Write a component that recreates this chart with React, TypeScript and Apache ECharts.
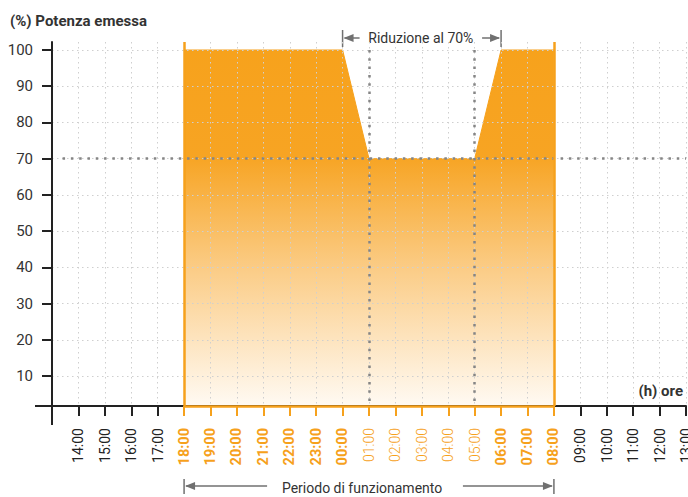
import React, { useEffect, useRef } from 'react';
import * as echarts from 'echarts';

// ---- data ----
const hourTicks = [14, 15, 16, 17, 18, 19, 20, 21, 22, 23, 24, 25, 26, 27, 28, 29, 30, 31, 32, 33, 34, 35, 36, 37];
const hourLabels = ['14:00', '15:00', '16:00', '17:00', '18:00', '19:00', '20:00', '21:00', '22:00', '23:00', '00:00', '01:00', '02:00', '03:00', '04:00', '05:00', '06:00', '07:00', '08:00', '09:00', '10:00', '11:00', '12:00', '13:00'];
const boldHours = [18, 19, 20, 21, 22, 23, 24, 30, 31, 32];
const thinOrangeHours = [25, 26, 27, 28, 29];
const blackTickHours = [14, 15, 16, 17, 33, 34, 35, 36, 37];
const orangeTickHours = [18, 19, 20, 21, 22, 23, 24, 25, 26, 27, 28, 29, 30, 31, 32];
const powerHours = [18, 24, 25, 29, 30, 32];
const powerValues = [100, 100, 70, 70, 100, 100];
const yTicks = [10, 20, 30, 40, 50, 60, 70, 80, 90, 100];
const reducedLevel = 70;
const fullLevel = 100;
const reductionMarkHours = [25, 29];
const operatingPeriod = [18, 32];
const reductionPeriod = [24, 30];

const X_MIN = 13;
const X_MAX = 37;
const Y_MIN = 1.72;
const Y_MAX = 102.21;

const ORANGE = '#f6a11c';
const FONT = 'Roboto, "Noto Sans", sans-serif';
const GRAY_ARROW = '#707070';

export default function App() {
  const ref = useRef<HTMLDivElement>(null);

  useEffect(() => {
    if (!ref.current) return;
    const chart = echarts.init(ref.current, null, { renderer: 'svg' });

    const gridLine = { color: '#cfcfcf', width: 1, type: [1.5, 3.5] };
    const darkDots = { color: '#858585', width: 2.5, type: [2.5, 5.8] };

    const option: any = {
      animation: false,
      grid: { left: 52, right: 2, top: 42, bottom: 91, containLabel: false, outerBoundsMode: 'none' },
      xAxis: [
        {
          type: 'value', min: X_MIN, max: X_MAX, interval: 1, position: 'bottom', z: 3,
          axisLine: { show: true, onZero: false, lineStyle: { color: '#222', width: 2 } },
          axisTick: { show: false, customValues: hourTicks },
          axisLabel: {
            customValues: hourTicks,
            rotate: 90,
            margin: 22,
            formatter: (v: number) => {
              const i = hourTicks.indexOf(v);
              if (i < 0) return '';
              const lab = hourLabels[i];
              if (boldHours.includes(v)) return `{b|${lab}}`;
              if (thinOrangeHours.includes(v)) return `{t|${lab}}`;
              return `{n|${lab}}`;
            },
            rich: {
              n: { color: '#222', fontSize: 14, fontFamily: FONT },
              b: { color: ORANGE, fontSize: 14.5, fontWeight: 'bold', fontFamily: FONT },
              t: { color: ORANGE, fontSize: 14, fontWeight: 300, fontFamily: FONT },
            },
          },
          splitLine: { show: true, lineStyle: gridLine },
        },
        {
          type: 'value', min: X_MIN, max: X_MAX, position: 'bottom', z: 3,
          axisLine: { show: false, onZero: false },
          axisTick: { show: true, customValues: blackTickHours, length: 10, lineStyle: { color: '#222', width: 2 } },
          axisLabel: { show: false },
          splitLine: { show: false },
        },
        {
          type: 'value', min: X_MIN, max: X_MAX, position: 'bottom', z: 3,
          axisLine: { show: false, onZero: false },
          axisTick: { show: true, customValues: orangeTickHours, length: 10, lineStyle: { color: ORANGE, width: 2 } },
          axisLabel: { show: false },
          splitLine: { show: false },
        },
      ],
      yAxis: {
        type: 'value', min: Y_MIN, max: Y_MAX, z: 3,
        axisLine: { show: true, onZero: false, lineStyle: { color: '#222', width: 2 } },
        axisTick: { show: true, customValues: yTicks, length: 10, lineStyle: { color: '#222', width: 2 } },
        axisLabel: { customValues: yTicks, margin: 19, color: '#333', fontSize: 15, fontFamily: FONT },
        splitLine: { show: true, lineStyle: gridLine },
      },
      series: [
        {
          type: 'line',
          data: powerHours.map((h, i) => [h, powerValues[i]]),
          symbol: 'none',
          silent: true,
          z: 2,
          lineStyle: { color: ORANGE, width: 1 },
          areaStyle: {
            origin: 'start',
            opacity: 1,
            color: new echarts.graphic.LinearGradient(0, 0, 0, 1, [
              { offset: 0, color: '#f7a21c' },
              { offset: 0.3, color: '#f7a423' },
              { offset: 0.62, color: '#fbcd88' },
              { offset: 1, color: '#fffaf3' },
            ]),
          },
        },
        {
          type: 'line',
          data: [],
          z: 4,
          clip: false,
          silent: true,
          markLine: {
            symbol: ['none', 'none'],
            silent: true,
            label: { show: false },
            data: [
              [
                { coord: [reductionMarkHours[0], fullLevel], lineStyle: darkDots },
                { coord: [reductionMarkHours[0], Y_MIN] },
              ],
              [
                { coord: [reductionMarkHours[1], fullLevel], lineStyle: darkDots },
                { coord: [reductionMarkHours[1], Y_MIN] },
              ],
              [
                { coord: [13.4, reducedLevel], lineStyle: darkDots },
                { coord: [X_MAX, reducedLevel] },
              ],
              [
                { coord: [operatingPeriod[0], Y_MIN], lineStyle: { color: ORANGE, width: 2.5, type: 'solid' } },
                { coord: [operatingPeriod[0], Y_MAX] },
              ],
              [
                { coord: [operatingPeriod[1], Y_MIN], lineStyle: { color: ORANGE, width: 2.5, type: 'solid' } },
                { coord: [operatingPeriod[1], Y_MAX] },
              ],
              [
                { coord: [operatingPeriod[0], Y_MIN], lineStyle: { color: ORANGE, width: 2.5, type: 'solid' } },
                { coord: [operatingPeriod[1], Y_MIN] },
              ],
            ],
          },
        },
      ],
    };

    chart.setOption(option);

    const px = (x: number, y: number) => chart.convertToPixel({ gridIndex: 0 }, [x, y]) as number[];
    const origin = px(X_MIN, Y_MIN);
    const xOf = (v: number) => px(v, Y_MIN)[0];

    const arrowLeft = (x: number, y: number) => ({
      type: 'polygon', shape: { points: [[x, y], [x + 10, y - 4], [x + 10, y + 4]] }, style: { fill: GRAY_ARROW },
    });
    const arrowRight = (x: number, y: number) => ({
      type: 'polygon', shape: { points: [[x, y], [x - 10, y - 4], [x - 10, y + 4]] }, style: { fill: GRAY_ARROW },
    });
    const seg = (x1: number, y1: number, x2: number, y2: number, w = 1.5, c = GRAY_ARROW) => ({
      type: 'line', shape: { x1, y1, x2, y2 }, style: { stroke: c, lineWidth: w },
    });

    const rA = xOf(reductionPeriod[0]);
    const rB = xOf(reductionPeriod[1]);
    const topY = 38;
    const oA = xOf(operatingPeriod[0]);
    const oB = xOf(operatingPeriod[1]);
    const botY = 486;

    chart.setOption({
      graphic: [
        seg(origin[0] - 17, origin[1], origin[0], origin[1], 2, '#222'),
        seg(origin[0], origin[1], origin[0], origin[1] + 19, 2, '#222'),
        {
          type: 'text', x: 10, y: 21,
          style: { text: '(%) Potenza emessa', font: `bold 15px ${FONT}`, fill: '#333', textAlign: 'left', textVerticalAlign: 'middle' },
        },
        {
          type: 'text', x: 683, y: 391,
          style: { text: '(h) ore', font: `bold 15px ${FONT}`, fill: '#333', textAlign: 'right', textVerticalAlign: 'middle' },
        },
        seg(rA, topY - 8, rA, topY + 9),
        seg(rA + 2, topY, rA + 17, topY),
        arrowLeft(rA + 1, topY),
        seg(rB, topY - 8, rB, topY + 9),
        seg(rB - 19, topY, rB - 2, topY),
        arrowRight(rB - 1, topY),
        {
          type: 'text', x: (rA + rB) / 2 - 1, y: topY,
          style: { text: 'Riduzione al 70%', font: `14px ${FONT}`, fill: '#333', textAlign: 'center', textVerticalAlign: 'middle' },
        },
        seg(oA, botY - 7, oA, botY + 8),
        seg(oA + 2, botY, oA + 83, botY),
        arrowLeft(oA + 1, botY),
        seg(oB, botY - 7, oB, botY + 8),
        seg(oB - 91, botY, oB - 2, botY),
        arrowRight(oB - 1, botY),
        {
          type: 'text', x: oA + 178, y: botY + 2,
          style: { text: 'Periodo di funzionamento', font: `14px ${FONT}`, fill: '#333', textAlign: 'center', textVerticalAlign: 'middle' },
        },
      ],
    });

    return () => chart.dispose();
  }, []);

  return (
    <div
      ref={ref}
      style={{ position: 'fixed', left: 0, top: 0, width: 688, height: 497, background: '#fff' }}
    />
  );
}
